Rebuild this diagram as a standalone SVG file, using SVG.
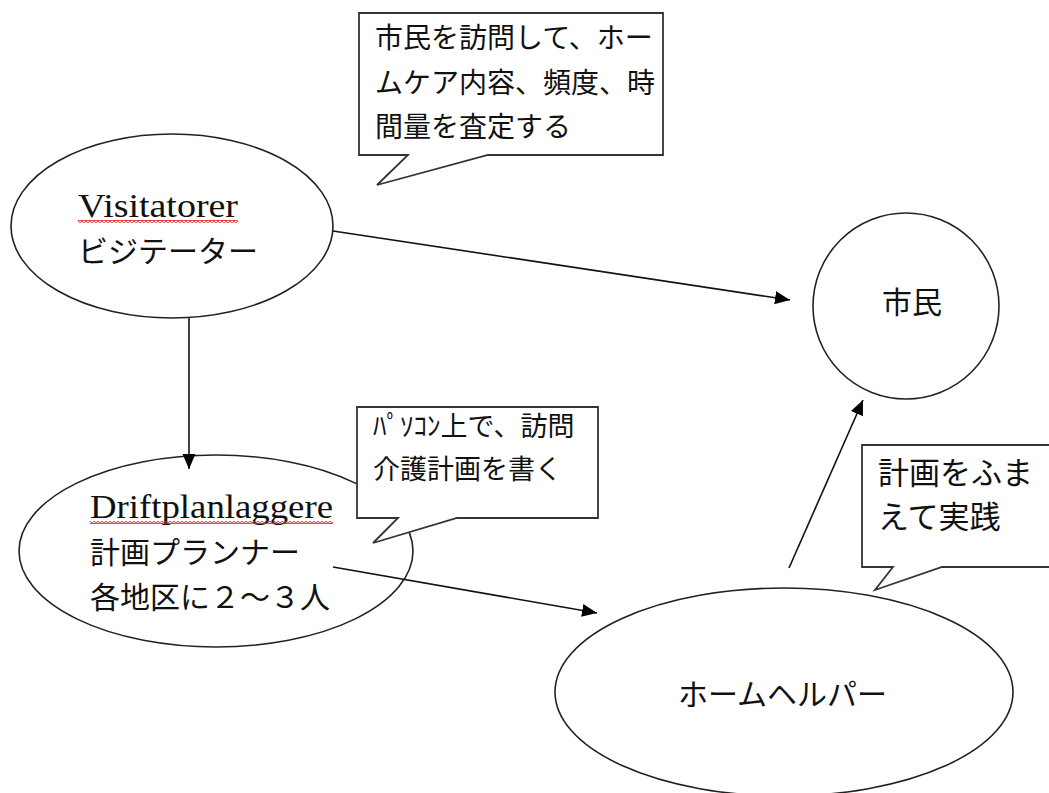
<svg xmlns="http://www.w3.org/2000/svg" width="1049" height="793" viewBox="0 0 1049 793">
<style>
.node{fill:#fff;stroke:#222;stroke-width:1.6}
.callout{fill:#fff;stroke:#333;stroke-width:1.8;stroke-linejoin:miter}
.conn{stroke:#111;stroke-width:1.6;fill:none}
.jp{font-family:"Noto Sans CJK JP","Noto Sans",sans-serif;fill:#111}
.lat{font-family:"Liberation Serif",serif;fill:#111}
</style>
<defs>
<marker id="arr" markerUnits="userSpaceOnUse" markerWidth="16" markerHeight="14" refX="15" refY="6.5" orient="auto">
<path d="M0,0 L15,6.5 L0,13 z" fill="#000"/>
</marker>
<pattern id="squiggle" patternUnits="userSpaceOnUse" width="4" height="3">
<path d="M0,0.5 L2,2.5 L4,0.5" stroke="#e02020" stroke-width="1.2" fill="none"/>
</pattern>
</defs>
<rect width="1049" height="793" fill="#fff"/>
<g id="visitatorer">
<ellipse class="node" cx="172" cy="226" rx="161" ry="92"/>
<text class="lat" x="78" y="217" font-size="33" textLength="160" lengthAdjust="spacingAndGlyphs">Visitatorer</text>
<rect x="78" y="220" width="160" height="3" fill="url(#squiggle)"/>
<text class="jp" x="78" y="262" font-size="30">ビジテーター</text>
</g>
<g id="shimin">
<circle class="node" cx="906" cy="306" r="93"/>
<text class="jp" x="882" y="313" font-size="30">市民</text>
</g>
<g id="driftplanlaggere">
<ellipse class="node" cx="216" cy="551" rx="197" ry="96"/>
<text class="lat" x="90" y="518" font-size="33" textLength="243" lengthAdjust="spacingAndGlyphs">Driftplanlaggere</text>
<rect x="90" y="521" width="243" height="3" fill="url(#squiggle)"/>
<text class="jp" x="90" y="563" font-size="30">計画プランナー</text>
<text class="jp" x="90" y="608" font-size="30">各地区に２～３人</text>
</g>
<g id="homehelper">
<ellipse class="node" cx="784" cy="692" rx="229" ry="104"/>
<text class="jp" x="678" y="705" font-size="30">ホームヘルパー</text>
</g>
<g id="connectors">
<line class="conn" x1="333" y1="231" x2="790" y2="300" marker-end="url(#arr)"/>
<line class="conn" x1="189" y1="318" x2="189" y2="469" marker-end="url(#arr)"/>
<line class="conn" x1="333" y1="567" x2="597" y2="613" marker-end="url(#arr)"/>
<line class="conn" x1="789" y1="568" x2="863" y2="400" marker-end="url(#arr)"/>
</g>
<g id="callout-visit">
<path class="callout" d="M359,13 H663 V155 H488 L377,185 L408,155 H359 Z"/>
<text class="jp" x="375" y="48" font-size="28">市民を訪問して、ホー</text>
<text class="jp" x="375" y="93" font-size="28">ムケア内容、頻度、時</text>
<text class="jp" x="375" y="137" font-size="28">間量を査定する</text>
</g>
<g id="callout-plan">
<path class="callout" d="M357,407 H598 V518 H457 L373,543 L398,518 H357 Z"/>
<text class="jp" x="373" y="436" font-size="27">ﾊﾟｿｺﾝ上で、訪問</text>
<text class="jp" x="373" y="479" font-size="27">介護計画を書く</text>
</g>
<g id="callout-practice">
<path class="callout" d="M862,445 H1060 V567 H942 L875,590 L893,567 H862 Z"/>
<text class="jp" x="878" y="484" font-size="31">計画をふま</text>
<text class="jp" x="878" y="528" font-size="31">えて実践</text>
</g>
</svg>
